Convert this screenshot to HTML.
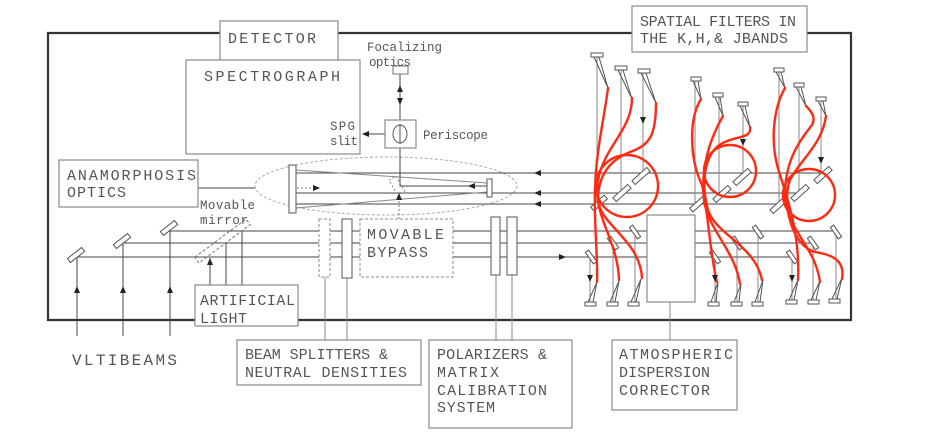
<!DOCTYPE html>
<html><head><meta charset="utf-8"><style>
html,body{margin:0;padding:0;background:#fff;width:929px;height:434px;overflow:hidden}
svg{display:block}
text{font-family:"Liberation Mono","DejaVu Sans Mono",monospace;fill:#555}
.L{font-size:15px}
.S{font-size:12.5px}
.ln{stroke:#444;stroke-width:1;fill:none}
.gl{stroke:#888;stroke-width:1;fill:none}
.bx{fill:#fff;stroke:#8a8a8a;stroke-width:1.2}
.mr{fill:#fff;stroke:#555;stroke-width:1}
.ah{fill:#222}
.fb{stroke:#ff2a12;stroke-width:2.4;fill:none;stroke-linecap:round}
.dsh{fill:#fff;stroke:#888;stroke-width:1;stroke-dasharray:3 2}
</style></head><body>
<svg width="929" height="434" viewBox="0 0 929 434" xmlns="http://www.w3.org/2000/svg">
<path d="M220,33 H48 V320 H851 V33 H807 M338,33 H632" stroke="#333" stroke-width="2.2" fill="none"/>

<ellipse cx="386" cy="186" rx="131" ry="29" fill="none" stroke="#aaa" stroke-width="1" stroke-dasharray="3 2"/>
<line x1="198" y1="188" x2="255" y2="188" class="ln"/>

<line x1="296" y1="173" x2="823" y2="173" class="ln"/>
<line x1="296" y1="193" x2="800" y2="193" class="ln"/>
<line x1="296" y1="204" x2="779" y2="204" class="ln"/>
<line x1="296" y1="170" x2="487" y2="183" class="gl"/>
<line x1="296" y1="208" x2="487" y2="192" class="gl"/>
<line x1="297" y1="188" x2="316" y2="188" stroke="#777" stroke-dasharray="2 2"/>
<polyline points="400,148 400,186 487,186" class="ln"/>
<line x1="400" y1="74" x2="400" y2="120" class="ln"/>
<line x1="385" y1="134" x2="364" y2="134" class="ln"/>
<line x1="399" y1="197" x2="399" y2="219" stroke="#777" stroke-dasharray="2 2"/>
<rect x="-4" y="-9" width="8" height="18" transform="translate(397 186) rotate(-30)" fill="none" stroke="#888" stroke-dasharray="2 2"/>
<rect x="289" y="165" width="7" height="48" class="mr"/>
<rect x="487" y="179" width="5" height="18" class="mr"/>

<line x1="169" y1="231" x2="647" y2="231" class="ln"/>
<line x1="122" y1="243" x2="647" y2="243" class="ln"/>
<line x1="76" y1="257" x2="647" y2="257" class="ln"/>
<line x1="695" y1="231" x2="836" y2="231" class="ln"/>
<line x1="695" y1="243" x2="813" y2="243" class="ln"/>
<line x1="695" y1="257" x2="792" y2="257" class="ln"/>

<line x1="77" y1="336" x2="77" y2="257" class="ln"/>
<line x1="123" y1="336" x2="123" y2="243" class="ln"/>
<line x1="170" y1="336" x2="170" y2="231" class="ln"/>
<rect x="-9" y="-2.5" width="18" height="5" transform="translate(76 255) rotate(-38)" class="mr"/>
<rect x="-9" y="-2.5" width="18" height="5" transform="translate(122 241) rotate(-38)" class="mr"/>
<rect x="-9" y="-2.5" width="18" height="5" transform="translate(169 228) rotate(-38)" class="mr"/>

<line x1="210" y1="258" x2="210" y2="285" class="ln"/>
<line x1="226" y1="243" x2="226" y2="285" class="ln"/>
<line x1="242" y1="231" x2="242" y2="285" class="ln"/>
<rect x="-32" y="-3.5" width="64" height="7" transform="translate(222.5 241) rotate(-36.7)" fill="none" stroke="#777" stroke-dasharray="3 2"/>

<line x1="325" y1="277" x2="325" y2="340" class="gl"/>
<line x1="347" y1="278" x2="347" y2="340" class="gl"/>
<line x1="496" y1="275" x2="496" y2="340" class="gl"/>
<line x1="512" y1="275" x2="512" y2="340" class="gl"/>
<rect x="319" y="219" width="11" height="58" class="dsh"/>
<rect x="342" y="219" width="10" height="59" class="mr"/>
<rect x="491" y="217" width="9" height="58" class="mr"/>
<rect x="507" y="217" width="10" height="58" class="mr"/>
<rect x="360" y="219" width="93" height="58" class="dsh"/>

<line x1="670" y1="302" x2="670" y2="340" class="gl"/>
<rect x="647" y="215" width="48" height="87" class="bx"/>

<g class="gl" stroke="#777">
<line x1="597" y1="57" x2="597" y2="203"/><line x1="621" y1="70" x2="621" y2="193"/><line x1="643" y1="73" x2="643" y2="176"/>
<line x1="695" y1="81" x2="695" y2="204"/><line x1="719" y1="97" x2="719" y2="194"/><line x1="743" y1="106" x2="743" y2="177"/>
<line x1="779" y1="72" x2="779" y2="205"/><line x1="799" y1="87" x2="799" y2="193"/><line x1="821" y1="101" x2="821" y2="175"/>
<line x1="590" y1="257" x2="590" y2="302"/><line x1="613" y1="243" x2="613" y2="302"/><line x1="635" y1="232" x2="635" y2="302"/>
<line x1="715" y1="257" x2="715" y2="302"/><line x1="737" y1="243" x2="737" y2="302"/><line x1="758" y1="232" x2="758" y2="302"/>
<line x1="792" y1="257" x2="792" y2="300"/><line x1="813" y1="243" x2="813" y2="300"/><line x1="836" y1="232" x2="836" y2="300"/>
</g>

<g stroke="#555" stroke-width="1" fill="#fff">
<rect x="591" y="53" width="12" height="4"/><polyline fill="none" points="594,57 608,88 599,57"/>
<rect x="615" y="66" width="12" height="4"/><polyline fill="none" points="618,70 632,99 623,70"/>
<rect x="638" y="69" width="12" height="4"/><polyline fill="none" points="641,73 656,103 646,73"/>
<rect x="691" y="77" width="10" height="4"/><polyline fill="none" points="693,81 701,99 698,81"/>
<rect x="713" y="93" width="10" height="4"/><polyline fill="none" points="715,97 723,116 720,97"/>
<rect x="738" y="102" width="10" height="4"/><polyline fill="none" points="740,106 750,127 745,106"/>
<rect x="774" y="68" width="10" height="4"/><polyline fill="none" points="776,72 785,88 781,72"/>
<rect x="794" y="83" width="10" height="4"/><polyline fill="none" points="796,87 806,106 801,87"/>
<rect x="816" y="97" width="10" height="4"/><polyline fill="none" points="818,101 826,116 823,101"/>
<rect x="585" y="302" width="11" height="4"/><polyline fill="none" points="588,302 597,282 593,302"/>
<rect x="607" y="302" width="11" height="4"/><polyline fill="none" points="610,302 619,281 615,302"/>
<rect x="628" y="302" width="11" height="4"/><polyline fill="none" points="631,302 641,279 636,302"/>
<rect x="708" y="302" width="11" height="4"/><polyline fill="none" points="711,302 718,282 716,302"/>
<rect x="731" y="302" width="11" height="4"/><polyline fill="none" points="734,302 741,284 739,302"/>
<rect x="752" y="302" width="11" height="4"/><polyline fill="none" points="755,302 763,280 760,302"/>
<rect x="786" y="300" width="11" height="4"/><polyline fill="none" points="789,300 798,280 794,300"/>
<rect x="808" y="300" width="11" height="4"/><polyline fill="none" points="811,300 820,281 816,300"/>
<rect x="829" y="299" width="11" height="4"/><polyline fill="none" points="832,299 842,278 837,299"/>
</g>

<g class="mr">
<rect x="-10" y="-2.5" width="20" height="5" transform="translate(641 176) rotate(-42)"/>
<rect x="-10" y="-2.5" width="20" height="5" transform="translate(622 193) rotate(-42)"/>
<rect x="-9" y="-2.5" width="18" height="5" transform="translate(599 203) rotate(-42)"/>
<rect x="-10" y="-2.5" width="20" height="5" transform="translate(742 177) rotate(-42)"/>
<rect x="-10" y="-2.5" width="20" height="5" transform="translate(722 194) rotate(-42)"/>
<rect x="-9" y="-2.5" width="18" height="5" transform="translate(698 204) rotate(-42)"/>
<rect x="-10" y="-2.5" width="20" height="5" transform="translate(823 175) rotate(-42)"/>
<rect x="-10" y="-2.5" width="20" height="5" transform="translate(800 193) rotate(-42)"/>
<rect x="-10" y="-2.5" width="20" height="5" transform="translate(779 205) rotate(-42)"/>
<rect x="-7" y="-2" width="14" height="4" transform="translate(591 257) rotate(55)"/>
<rect x="-7" y="-2" width="14" height="4" transform="translate(613 243) rotate(55)"/>
<rect x="-7" y="-2" width="14" height="4" transform="translate(635 232) rotate(55)"/>
<rect x="-7" y="-2" width="14" height="4" transform="translate(715 257) rotate(55)"/>
<rect x="-7" y="-2" width="14" height="4" transform="translate(737 243) rotate(55)"/>
<rect x="-7" y="-2" width="14" height="4" transform="translate(758 232) rotate(55)"/>
<rect x="-7" y="-2" width="14" height="4" transform="translate(792 257) rotate(55)"/>
<rect x="-7" y="-2" width="14" height="4" transform="translate(813 243) rotate(55)"/>
<rect x="-7" y="-2" width="14" height="4" transform="translate(836 232) rotate(55)"/>
</g>

<g class="fb">
<circle cx="627" cy="186" r="31"/>
<path d="M608,88 C604,120 596,150 595,190 C594,230 598,255 597,282"/>
<path d="M632,98 C632,130 605,145 598,180 C592,215 618,240 619,280"/>
<path d="M656,103 C656,135 650,145 630,152 C610,160 598,175 598,200 C600,225 640,240 642,278"/>
<circle cx="730" cy="171" r="26"/>
<path d="M701,99 C688,120 690,160 702,185 C708,210 710,255 717,282"/>
<path d="M723,116 C712,135 700,165 704,200 C708,230 735,250 740,284"/>
<path d="M750,127 C752,138 738,136 725,142 C705,150 700,180 708,210 C716,235 755,245 762,280"/>
<circle cx="809" cy="195" r="26"/>
<path d="M785,88 C775,105 768,140 780,175 C790,205 800,240 798,280"/>
<path d="M806,106 C812,112 816,118 812,125 C800,140 785,160 785,195 C786,230 815,245 820,282"/>
<path d="M826,116 C822,145 800,160 790,180 C782,200 790,245 815,252 C835,255 845,262 842,279"/>
</g>

<g class="ah">
<polygon points="400,85 397,92 403,92"/>
<polygon points="400,105 397,98 403,98"/>
<polygon points="399,193 396,200 402,200"/>
<polygon points="77,286 74,293 80,293"/>
<polygon points="123,286 120,293 126,293"/>
<polygon points="170,286 167,293 173,293"/>
<polygon points="210,258 207,265 213,265"/>
<polygon points="643,124 640,117 646,117"/>
<polygon points="743,146 740,139 746,139"/>
<polygon points="821,164 818,157 824,157"/>
<polygon points="590,282 587,275 593,275"/>
<polygon points="715,282 712,275 718,275"/>
<polygon points="792,282 789,275 795,275"/>
<polygon points="362,134 369,131 369,137"/>
<polygon points="468,186 475,183 475,189"/>
<polygon points="534,173 541,170 541,176"/>
<polygon points="534,193 541,190 541,196"/>
<polygon points="534,204 541,201 541,207"/>
<polygon points="320,188 313,185 313,191"/>
<polygon points="566,257 559,254 559,260"/>
</g>

<rect x="186" y="60" width="174" height="94" class="bx"/>
<rect x="220" y="21" width="118" height="39" class="bx"/>
<rect x="632" y="6" width="175" height="46" class="bx"/>
<rect x="59" y="160" width="139" height="47" class="bx"/>
<rect x="195" y="285" width="103" height="41" class="bx"/>
<rect x="237" y="340" width="184" height="45" class="bx"/>
<rect x="429" y="340" width="143" height="88" class="bx"/>
<rect x="612" y="340" width="125" height="70" class="bx"/>
<rect x="385" y="120" width="31" height="28" class="bx" stroke="#666"/>
<ellipse cx="400" cy="134" rx="7" ry="9" fill="none" stroke="#555"/>
<line x1="400" y1="124" x2="400" y2="144" stroke="#555"/>
<rect x="393" y="66" width="15" height="8" class="bx" stroke="#666"/>

<text class="L" x="228" y="43" textLength="88" lengthAdjust="spacing">DETECTOR</text>
<text class="L" x="204" y="81" textLength="136" lengthAdjust="spacing">SPECTROGRAPH</text>
<text class="L" x="640" y="26" textLength="156" lengthAdjust="spacing">SPATIAL FILTERS IN</text>
<text class="L" x="640" y="43" textLength="148" lengthAdjust="spacing">THE K,H,&amp; JBANDS</text>
<text class="L" x="67" y="180" textLength="129" lengthAdjust="spacing">ANAMORPHOSIS</text>
<text class="L" x="67" y="197" textLength="59" lengthAdjust="spacing">OPTICS</text>
<text class="L" x="367" y="239" textLength="77" lengthAdjust="spacing">MOVABLE</text>
<text class="L" x="367" y="257" textLength="61" lengthAdjust="spacing">BYPASS</text>
<text class="L" x="200" y="305" textLength="95" lengthAdjust="spacing">ARTIFICIAL</text>
<text class="L" x="200" y="323" textLength="47" lengthAdjust="spacing">LIGHT</text>
<text class="L" x="72" y="365" textLength="105" lengthAdjust="spacing" style="font-size:16px">VLTIBEAMS</text>
<text class="L" x="245" y="359" textLength="143" lengthAdjust="spacing">BEAM SPLITTERS &amp;</text>
<text class="L" x="245" y="377" textLength="162" lengthAdjust="spacing">NEUTRAL DENSITIES</text>
<text class="L" x="437" y="359" textLength="110" lengthAdjust="spacing">POLARIZERS &amp;</text>
<text class="L" x="437" y="377" textLength="62" lengthAdjust="spacing">MATRIX</text>
<text class="L" x="437" y="395" textLength="110" lengthAdjust="spacing">CALIBRATION</text>
<text class="L" x="437" y="412" textLength="58" lengthAdjust="spacing">SYSTEM</text>
<text class="L" x="619" y="359" textLength="114" lengthAdjust="spacing">ATMOSPHERIC</text>
<text class="L" x="619" y="377" textLength="91" lengthAdjust="spacing">DISPERSION</text>
<text class="L" x="619" y="395" textLength="91" lengthAdjust="spacing">CORRECTOR</text>
<text class="S" x="367" y="51" textLength="75" lengthAdjust="spacing">Focalizing</text>
<text class="S" x="369" y="66" textLength="42" lengthAdjust="spacing">optics</text>
<text class="S" x="330" y="130" textLength="25" lengthAdjust="spacing">SPG</text>
<text class="S" x="330" y="145" textLength="28" lengthAdjust="spacing">slit</text>
<text class="S" x="423" y="139" textLength="65" lengthAdjust="spacing">Periscope</text>
<text class="S" x="200" y="209" textLength="55" lengthAdjust="spacing">Movable</text>
<text class="S" x="200" y="224" textLength="48" lengthAdjust="spacing">mirror</text>
</svg>
</body></html>
